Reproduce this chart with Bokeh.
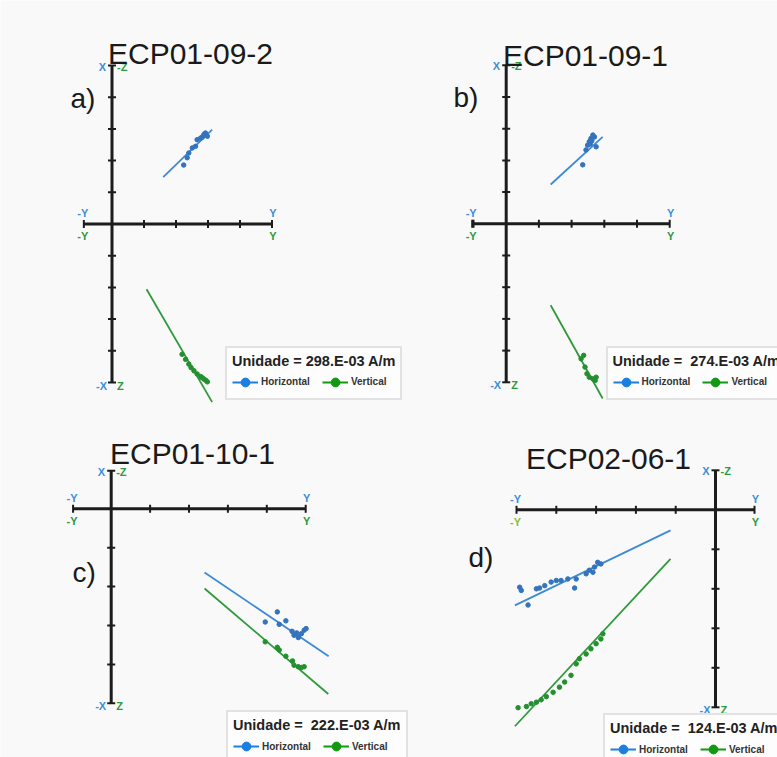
import math
from bokeh.plotting import figure
from bokeh.models import Range1d, ColumnDataSource, Legend, LegendItem, Label
from bokeh.core.properties import value
from bokeh.embed import file_html
from bokeh.resources import INLINE

# ---------------- data (in units of the diagram tick spacing) ----------------
titles = ["ECP01-09-2", "ECP01-09-1", "ECP01-10-1", "ECP02-06-1"]
panel_tags = ["a)", "b)", "c)", "d)"]
unit_labels = ["Unidade = 298.E-03 A/m", "Unidade =  274.E-03 A/m",
               "Unidade =  222.E-03 A/m", "Unidade =  124.E-03 A/m"]
series_names = ["Horizontal", "Vertical"]

# axis extents: [min, max] of the horizontal (Y) axis and the vertical (X / -Z) axis
a_h_axis = [-0.88, 5.0]
a_v_axis = [-5.0, 5.0]
b_h_axis = [-1.04, 5.0]
b_v_axis = [-5.0, 5.0]
c_h_axis = [-0.98, 5.0]
c_v_axis = [-5.0, 0.98]
d_h_axis = [-5.0, 0.98]
d_v_axis = [-5.0, 1.0]

# panel a
a_h_y = [2.24, 2.35, 2.40, 2.51, 2.61, 2.66, 2.77, 2.82, 2.87, 2.92, 2.98]
a_h_x = [1.86, 2.09, 2.24, 2.40, 2.45, 2.66, 2.71, 2.74, 2.82, 2.87, 2.77]
a_v_y = [2.19, 2.30, 2.40, 2.47, 2.56, 2.66, 2.77, 2.82, 2.87, 2.93, 2.98]
a_v_z = [4.11, 4.27, 4.42, 4.53, 4.63, 4.73, 4.81, 4.85, 4.89, 4.93, 4.98]
a_hfit_y = [1.60, 3.13]
a_hfit_x = [1.48, 2.98]
a_vfit_y = [1.08, 3.13]
a_vfit_z = [2.06, 5.62]

# panel b
b_h_y = [2.34, 2.44, 2.49, 2.54, 2.59, 2.65, 2.70, 2.75, 2.57, 2.62]
b_h_x = [1.86, 2.33, 2.48, 2.59, 2.69, 2.80, 2.74, 2.43, 2.52, 2.62]
b_v_y = [2.29, 2.37, 2.41, 2.47, 2.54, 2.65, 2.72, 2.75]
b_v_z = [4.26, 4.15, 4.52, 4.73, 4.84, 4.89, 4.94, 4.84]
b_hfit_y = [1.36, 2.95]
b_hfit_x = [1.24, 2.74]
b_vfit_y = [1.36, 2.95]
b_vfit_z = [2.57, 5.51]

# panel c
c_h_y = [3.96, 4.27, 4.32, 4.49, 4.65, 4.70, 4.77, 4.81, 4.89, 4.96, 5.01]
c_h_x = [-2.91, -2.65, -2.97, -2.88, -3.15, -3.25, -3.19, -3.31, -3.21, -3.12, -3.08]
c_v_y = [3.96, 4.27, 4.32, 4.49, 4.66, 4.70, 4.81, 4.89, 4.96]
c_v_z = [3.42, 3.56, 3.63, 3.79, 3.91, 4.02, 4.06, 4.08, 4.06]
c_hfit_y = [2.40, 5.59]
c_hfit_x = [-1.64, -3.79]
c_vfit_y = [2.40, 5.58]
c_vfit_z = [2.05, 4.76]

# panel d
d_h_y = [-4.92, -4.88, -4.71, -4.50, -4.42, -4.29, -4.13, -4.00, -3.88,
         -3.71, -3.54, -3.50, -3.25, -3.17, -3.08, -3.04, -2.96, -2.88]
d_h_x = [-1.96, -2.04, -2.41, -2.00, -1.98, -1.92, -1.83, -1.79, -1.79,
         -1.75, -1.98, -1.75, -1.62, -1.53, -1.58, -1.45, -1.33, -1.37]
d_v_y = [-4.96, -4.75, -4.63, -4.50, -4.38, -4.25, -4.08, -3.92, -3.79,
         -3.63, -3.50, -3.42, -3.25, -3.13, -3.00, -2.88, -2.83]
d_v_z = [5.01, 4.98, 4.91, 4.87, 4.81, 4.73, 4.62, 4.49, 4.36,
         4.19, 3.90, 3.77, 3.65, 3.52, 3.39, 3.27, 3.14]
d_hfit_y = [-5.04, -1.13]
d_hfit_x = [-2.42, -0.52]
d_vfit_y = [-5.04, -1.13]
d_vfit_z = [5.48, 1.24]

# ---------------- layout / style ----------------
W, H = 777, 757
OFF = 0  # page offset of the canvas
BG = "#f9f9f9"
FONT = "Liberation Sans"
BLUE_LINE, GREEN_LINE = "#3d8ad6", "#2f9a3c"
BLUE_PT, GREEN_PT = "#3473bd", "#23902e"
BLUE_TXT, GREEN_TXT = "#3b8fd9", "#2d9a3d"
LEG_BLUE, LEG_GREEN = "#1a7fe0", "#119911"

# per panel: origin (page px), unit size (px), title pos, tag pos, legend pos
layout = {
    "a": dict(ox=111.5, oy=223.5, ux=32.0, uy=31.7, title=(190, 53), tag=(70, 98), leg=(225, 350.5), ly_green=GREEN_TXT),
    "b": dict(ox=505.7, oy=223.3, ux=32.7, uy=31.7, title=(585, 55), tag=(453, 97), leg=(605.5, 350.5), ly_green=GREEN_TXT),
    "c": dict(ox=110.7, oy=508.3, ux=38.9, uy=38.9, title=(192, 453), tag=(72, 572), leg=(226, 715), ly_green=GREEN_TXT),
    "d": dict(ox=715.0, oy=509.3, ux=39.8, uy=39.5, title=(608, 458), tag=(468, 557), leg=(603, 718), ly_green="#8dbb3c"),
}
data = {
    "a": (a_h_axis, a_v_axis, a_h_y, a_h_x, a_v_y, a_v_z, a_hfit_y, a_hfit_x, a_vfit_y, a_vfit_z),
    "b": (b_h_axis, b_v_axis, b_h_y, b_h_x, b_v_y, b_v_z, b_hfit_y, b_hfit_x, b_vfit_y, b_vfit_z),
    "c": (c_h_axis, c_v_axis, c_h_y, c_h_x, c_v_y, c_v_z, c_hfit_y, c_hfit_x, c_vfit_y, c_vfit_z),
    "d": (d_h_axis, d_v_axis, d_h_y, d_h_x, d_v_y, d_v_z, d_hfit_y, d_hfit_x, d_vfit_y, d_vfit_z),
}

p = figure(width=W, height=H, output_backend="svg", toolbar_location=None,
           x_range=Range1d(0, W), y_range=Range1d(0, H),
           x_axis_location=None, y_axis_location=None, min_border=0)
p.grid.visible = False
p.outline_line_color = None
p.background_fill_color = BG
p.border_fill_color = BG

LEG_H = 49
NAN = float("nan")

for i, key in enumerate(["a", "b", "c", "d"]):
    L = layout[key]
    h_axis, v_axis, h_y, h_x, v_y, v_z, hf_y, hf_x, vf_y, vf_z = data[key]
    fx0 = L["ox"] - OFF
    fy0 = H - (L["oy"] - OFF)
    xs = -fx0 / L["ux"]
    ys = -fy0 / L["uy"]
    p.extra_x_ranges[key] = Range1d(xs, xs + W / L["ux"])
    p.extra_y_ranges[key] = Range1d(ys, ys + H / L["uy"])
    kw = dict(x_range_name=key, y_range_name=key)

    # cross axes
    p.segment(x0=[h_axis[0], 0], y0=[0, v_axis[0]], x1=[h_axis[1], 0], y1=[0, v_axis[1]],
              line_color="#1c1c1c", line_width=3, **kw)
    htk = sorted(set([k for k in range(math.ceil(h_axis[0]), math.floor(h_axis[1]) + 1) if k != 0] + list(h_axis)))
    vtk = sorted(set([k for k in range(math.ceil(v_axis[0]), math.floor(v_axis[1]) + 1) if k != 0] + list(v_axis)))
    p.scatter(x=htk, y=[0] * len(htk), marker="dash", size=8, angle=math.pi / 2,
              line_color="#1c1c1c", line_width=2, **kw)
    p.scatter(x=[0] * len(vtk), y=vtk, marker="dash", size=8,
              line_color="#1c1c1c", line_width=2, **kw)

    # axis end labels
    lab = ColumnDataSource(dict(
        x=[0, 0, 0, 0, h_axis[0], h_axis[0], h_axis[1], h_axis[1]],
        y=[v_axis[1], v_axis[1], v_axis[0], v_axis[0], 0, 0, 0, 0],
        text=["X", "-Z", "-X", "Z", "-Y", "-Y", "Y", "Y"],
        color=[BLUE_TXT, GREEN_TXT, BLUE_TXT, GREEN_TXT, BLUE_TXT, L["ly_green"], BLUE_TXT, GREEN_TXT],
        xo=[-6, 5, -5, 5, -1, -1, 1, 1],
        yo=[1, 1, 3, 3, -11, 12, -11, 12],
        align=["right", "left", "right", "left", "center", "center", "center", "center"],
    ))
    p.text(x="x", y="y", text="text", text_color="color", x_offset="xo", y_offset="yo",
           text_align="align", text_baseline="middle", text_font=value(FONT),
           text_font_size="11px", text_font_style="bold", source=lab, **kw)

    # fit lines
    p.line(x=hf_y, y=hf_x, line_color=BLUE_LINE, line_width=1.8, **kw)
    p.line(x=vf_y, y=[-z for z in vf_z], line_color=GREEN_LINE, line_width=1.8, **kw)
    # data points
    p.scatter(x=h_y, y=h_x, size=4.5, fill_color=BLUE_PT, line_color=BLUE_PT, **kw)
    p.scatter(x=v_y, y=[-z for z in v_z], size=4.5, fill_color=GREEN_PT, line_color=GREEN_PT, **kw)

    # title and panel tag
    p.add_layout(Label(x=L["title"][0] - OFF, y=H - (L["title"][1] - OFF), x_units="screen", y_units="screen",
                       text=titles[i], text_align="center", text_baseline="alphabetic",
                       text_font=FONT, text_font_size="30px", text_color="#1a1a1a"))
    p.add_layout(Label(x=L["tag"][0] - OFF, y=H - (L["tag"][1] - OFF), x_units="screen", y_units="screen",
                       text=panel_tags[i], text_align="left", text_baseline="alphabetic",
                       text_font=FONT, text_font_size="28px", text_color="#1a1a1a"))

    # legend (invisible-data renderers only used for the legend glyphs)
    src_b = ColumnDataSource(dict(x=[NAN], y=[NAN]))
    src_g = ColumnDataSource(dict(x=[NAN], y=[NAN]))
    rb_l = p.line("x", "y", source=src_b, line_color=LEG_BLUE, line_width=2)
    rb_c = p.scatter("x", "y", source=src_b, fill_color=LEG_BLUE, line_color=LEG_BLUE)
    rg_l = p.line("x", "y", source=src_g, line_color=LEG_GREEN, line_width=2)
    rg_c = p.scatter("x", "y", source=src_g, fill_color=LEG_GREEN, line_color=LEG_GREEN)
    leg = Legend(items=[LegendItem(label=series_names[0], renderers=[rb_l, rb_c]),
                        LegendItem(label=series_names[1], renderers=[rg_l, rg_c])],
                 location=(L["leg"][0] - OFF, H - (L["leg"][1] - OFF) - LEG_H),
                 orientation="horizontal", title=unit_labels[i],
                 title_text_font=FONT, title_text_font_size="14.5px", title_text_font_style="bold",
                 title_text_color="#222222", title_standoff=2,
                 label_text_font=FONT, label_text_font_size="10px", label_text_font_style="bold",
                 label_text_color="#333333", label_standoff=3, label_height=12,
                 glyph_width=26, glyph_height=22, spacing=12, padding=5, margin=0,
                 border_line_color="#c8c8c8", border_line_width=2,
                 background_fill_color="#fdfdfd", background_fill_alpha=1.0)
    p.add_layout(leg)

open("out.html", "w").write(file_html(p, INLINE))
